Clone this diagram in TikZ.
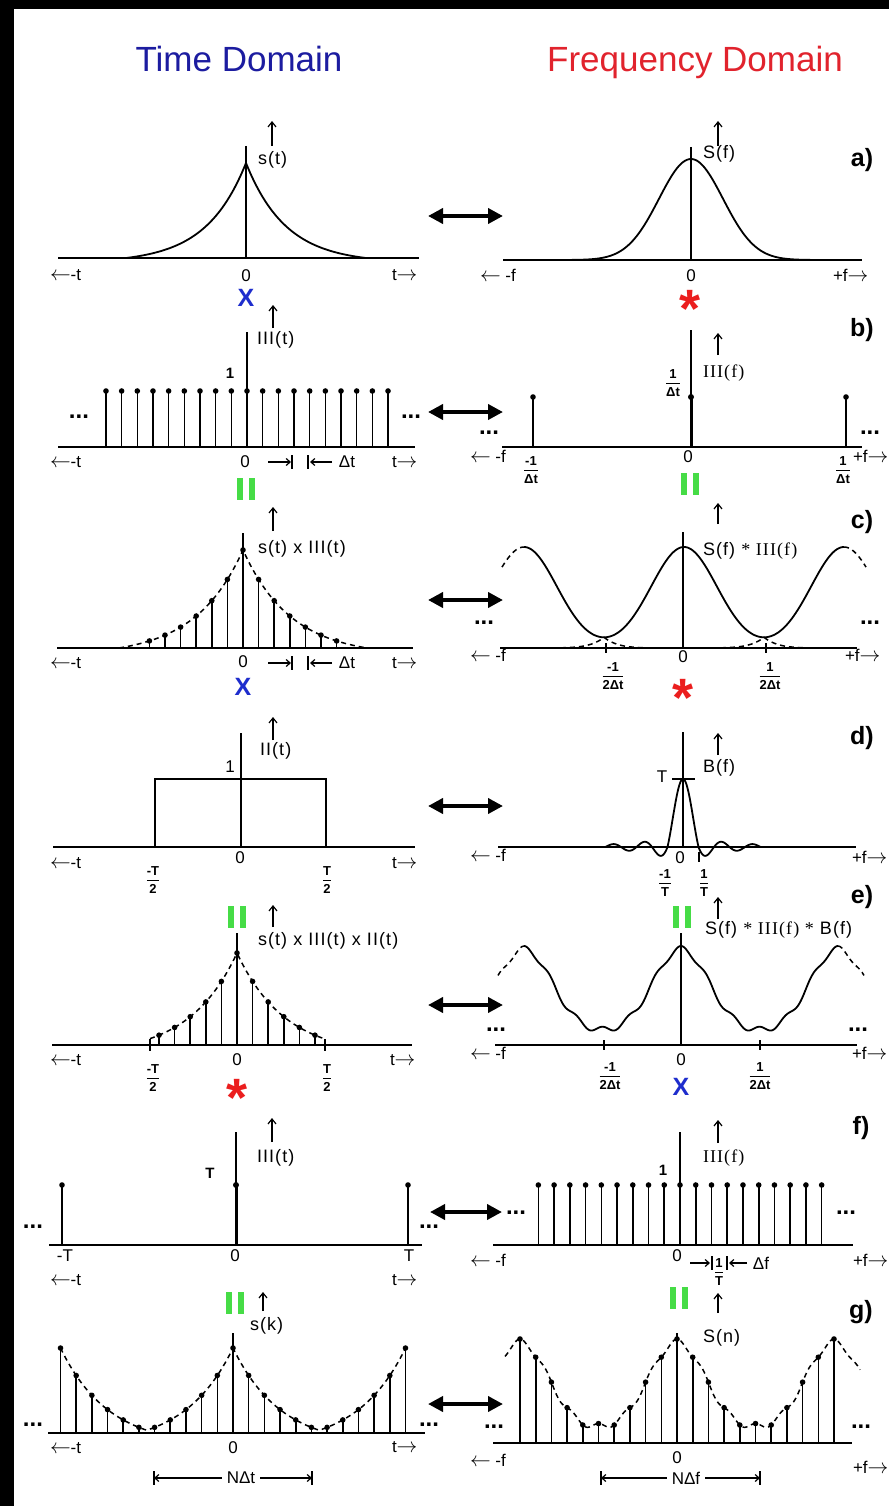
\documentclass[tikz,border=0pt]{standalone}
\usepackage{fontspec}
\usepackage{amsmath}
\setmainfont{Liberation Sans}
\newfontfamily\lsans[LetterSpace=6]{Liberation Sans}
\newfontfamily\lserif[LetterSpace=6]{Liberation Serif}
\usetikzlibrary{arrows.meta}
\definecolor{tblue}{RGB}{28,28,160}
\definecolor{fred}{RGB}{225,35,45}
\definecolor{xblue}{RGB}{30,45,205}
\definecolor{ggreen}{RGB}{70,220,70}
\definecolor{sred}{RGB}{235,30,30}
\newcommand\arrL{{\fontsize{22}{22}\selectfont$\leftarrow$}}
\newcommand\arrR{{\fontsize{22}{22}\selectfont$\rightarrow$}}
\newcommand\fr[2]{$\genfrac{}{}{1pt}{0}{\textbf{#1}}{\textbf{#2}}$}
\newcommand\stem[3]{\draw[imp] (#1,#2) -- (#1,#3); \fill (#1,#3) circle[radius=2.8pt];}
\newcommand\eqv[2]{\fill[ggreen] ({#1-9},{#2-11}) rectangle ({#1-3},{#2+11}); \fill[ggreen] ({#1+3},{#2-11}) rectangle ({#1+9},{#2+11});}
\tikzset{
  every node/.style={inner sep=0pt, outer sep=0pt},
  lab/.style={font=\lsans\fontsize{18}{18}\selectfont, anchor=west},
  ser/.style={font=\lserif\fontsize{18}{18}\selectfont, anchor=west},
  num/.style={font=\fontsize{17}{17}\selectfont},
  bnum/.style={font=\fontsize{15}{15}\selectfont\bfseries},
  frc/.style={font=\fontsize{13}{13}\selectfont},
  dts/.style={font=\fontsize{24}{24}\selectfont\bfseries},
  panel/.style={font=\fontsize{25}{25}\selectfont\bfseries},
  opx/.style={font=\fontsize{25}{25}\selectfont\bfseries, text=xblue},
  opst/.style={font=\fontsize{54}{54}\selectfont\bfseries, text=sred, anchor=base},
  ax/.style={line width=2pt},
  crv/.style={line width=1.8pt},
  imp/.style={line width=1.6pt},
  env/.style={line width=1.5pt, dash pattern=on 5pt off 4pt},
  uparr/.style={line width=1.2pt, -{Straight Barb[length=5pt,width=8pt]}},
  marr/.style={line width=1.2pt, -{Straight Barb[length=4pt,width=7pt]}},
  tickln/.style={line width=1.5pt},
  dbl/.style={line width=4pt, {Triangle[length=15pt,width=15pt]}-{Triangle[length=15pt,width=15pt]}},
  declare function={
    sa(\xa)=95*(exp(-abs(\xa)/40)-0.0498)/0.9502;
    sc(\xa)=98*(exp(-abs(\xa)/48)-0.0755)/0.9245;
    se(\xa)=92*(exp(-abs(\xa)/48)-0.101)/0.899;
    pd(\xa,\xc,\xp)=\xa-\xc-\xp*round((\xa-\xc)/\xp);
    sg(\xa)=85*max(0,(exp(-abs(\xa)/48)-0.138)/0.862);
    gc(\xa)=exp(-0.5*(\xa/33)^2);
    hc(\xa)=101*(gc(pd(\xa,684,160))+gc(pd(\xa,684,160)-160)+gc(pd(\xa,684,160)+160));
    gr(\xa)=exp(-0.5*(\xa/28)^2);
    hr(\xa,\xc,\xb,\xd)=\xb+\xd*(gr(pd(\xa,\xc,157))+gr(pd(\xa,\xc,157)-157)+gr(pd(\xa,\xc,157)+157))+3*cos(360*(pd(\xa,\xc,157)/26.17));
    sinc(\xa)=sin(180*\xa)/(3.14159*\xa)*(abs(\xa)<1 ? 1 : 0.6);
  }
}
\begin{document}
\begin{tikzpicture}[x=1pt,y=-1pt]
\useasboundingbox (0,0) rectangle (889,1506);
\clip (0,0) rectangle (889,1506);
\fill[white] (0,0) rectangle (889,1506);
\fill[black] (0,0) rectangle (889,9);
\fill[black] (0,0) rectangle (14,1506);

% titles
\node[font=\fontsize{35}{35}\selectfont, text=tblue, anchor=base] (ttime) at (239,72) {Time Domain};
\node[font=\fontsize{35}{35}\selectfont, text=fred, anchor=base] (tfreq) at (695,72) {Frequency Domain};

% ---------------- row a ----------------
\draw[ax] (58,258) -- (419,258);
\draw[ax] (246,146) -- (246,258);
\draw[crv] plot[domain=126:366, samples=121] (\x,{258-sa(\x-246)});
\draw[uparr] (272,146) -- (272,121);
\node[lab] (la) at (258,160) {s(t)};
\node[num,anchor=west] (ta1) at (50,275) {\arrL-t};
\node[num] (ta0) at (246,276) {0};
\node[num,anchor=west] (ta2) at (392,275) {t\arrR};
\node[opx] (xa) at (246,298) {X};

\draw[ax] (503,260) -- (862,260);
\draw[ax] (691,147) -- (691,260);
\draw[crv] plot[domain=571:811, samples=121] (\x,{260-101*exp(-0.5*((\x-691)/32)^2)});
\draw[uparr] (718,146) -- (718,121);
\node[lab] (lfa) at (703,154) {S(f)};
\node[num,anchor=west] (fa1) at (480,275) {\arrL{} -f};
\node[num] (fa0) at (691,276) {0};
\node[num,anchor=west] (fa2) at (833,275) {+f\arrR};
\node[opst] (sa) at (690,327) {*};
\node[panel] (pa) at (862,160) {a)};
\coordinate (aL) at (428,216); \coordinate (aR) at (503,216);
\draw[dbl] (aL) -- (aR);

% ---------------- row b ----------------
\draw[ax] (58,447) -- (415,447);
\draw[ax] (247,332) -- (247,447);
\foreach \k in {-9,...,9} {\pgfmathsetmacro{\xx}{247+15.67*\k}\stem{\xx}{447}{391}}
\draw[uparr] (273,328) -- (273,305);
\node[lab] (lb) at (257,340) {III(t)};
\node[bnum] (onb) at (230,373) {1};
\node[dts] (db1) at (79,417) {...};
\node[dts] (db2) at (411,417) {...};
\node[num,anchor=west] (tb1) at (50,462) {\arrL-t};
\node[num] (tb0) at (245,462) {0};
\draw[marr] (268,462) -- (291,462);
\draw[tickln] (292,455) -- (292,469);
\draw[tickln] (308,455) -- (308,469);
\draw[marr] (332,462) -- (310,462);
\node[num] (dtb) at (347,462) {Δt};
\node[num,anchor=west] (tb2) at (392,462) {t\arrR};
\eqv{246}{489}

\draw[ax] (502,447) -- (862,447);
\draw[ax] (691,330) -- (691,447);
\stem{533}{447}{397}
\stem{846}{447}{397}
\draw[line width=3pt] (691,397) -- (691,447);
\fill (691,397) circle[radius=3pt];
\draw[uparr] (718,355) -- (718,333);
\node[ser] (lfb) at (703,373) {III(f)};
\node[frc] (fb3) at (673,383) {\fr{1}{Δt}};
\node[dts] (dfb1) at (489,433) {...};
\node[dts] (dfb2) at (870,433) {...};
\node[num,anchor=west] (fb1) at (470,456) {\arrL{} -f};
\node[frc] (fb4) at (531,470) {\fr{-1}{Δt}};
\node[num] (fb0) at (688,457) {0};
\node[frc] (fb5) at (843,470) {\fr{1}{Δt}};
\node[num,anchor=west] (fb2) at (853,456) {+f\arrR};
\eqv{690}{484}
\node[panel] (pb) at (862,330) {b)};
\coordinate (bL) at (428,412); \coordinate (bR) at (503,412);
\draw[dbl] (bL) -- (bR);

% ---------------- row c ----------------
\draw[ax] (57,648) -- (413,648);
\draw[ax] (243,533) -- (243,648);
\draw[env] plot[domain=119:367, samples=101] (\x,{648-sc(\x-243)});
\foreach \k in {-6,...,6} {\pgfmathsetmacro{\xx}{243+15.6*\k}\pgfmathsetmacro{\yy}{648-sc(15.6*\k)}\stem{\xx}{648}{\yy}}
\draw[uparr] (273,531) -- (273,507);
\node[lab] (lc) at (258,549) {s(t) x III(t)};
\node[num,anchor=west] (tc1) at (50,663) {\arrL-t};
\node[num] (tc0) at (243,662) {0};
\draw[marr] (268,663) -- (291,663);
\draw[tickln] (292,656) -- (292,670);
\draw[tickln] (308,656) -- (308,670);
\draw[marr] (332,663) -- (310,663);
\node[num] (dtc) at (347,663) {Δt};
\node[num,anchor=west] (tc2) at (392,663) {t\arrR};
\node[opx] (xc) at (243,687) {X};

\draw[ax] (500,648) -- (857,648);
\draw[ax] (683,532) -- (683,648);
\draw[crv] plot[domain=524:844, samples=220] (\x,{648-hc(\x)});
\draw[env] plot[domain=502:524, samples=12] (\x,{648-hc(\x)});
\draw[env] plot[domain=844:866, samples=12] (\x,{648-hc(\x)});
\draw[env] plot[domain=552:604, samples=30] (\x,{648-202*gc(\x-684)});
\draw[env] plot[domain=604:656, samples=30] (\x,{648-202*gc(\x-524)});
\draw[env] plot[domain=712:764, samples=30] (\x,{648-202*gc(\x-844)});
\draw[env] plot[domain=764:816, samples=30] (\x,{648-202*gc(\x-684)});
\draw[tickln] (606,643) -- (606,653);
\draw[tickln] (766,643) -- (766,653);
\draw[uparr] (718,524) -- (718,503);
\node[lab] (lfc) at (703,551) {S(f) {\lserif * III(f)}};
\node[dts] (dfc1) at (484,623) {...};
\node[dts] (dfc2) at (870,623) {...};
\node[num,anchor=west] (fc1) at (470,655) {\arrL{} -f};
\node[frc] (fc3) at (613,676) {\fr{-1}{2Δt}};
\node[num] (fc0) at (683,657) {0};
\node[frc] (fc4) at (770,676) {\fr{1}{2Δt}};
\node[num,anchor=west] (fc2) at (845,655) {+f\arrR};
\node[opst] (sc) at (683,716) {*};
\node[panel] (pc) at (862,522) {c)};
\coordinate (cL) at (428,600); \coordinate (cR) at (503,600);
\draw[dbl] (cL) -- (cR);

% ---------------- row d ----------------
\draw[ax] (53,847) -- (415,847);
\draw[ax] (241,733) -- (241,847);
\draw[crv] (155,847) -- (155,779) -- (326,779) -- (326,847);
\draw[uparr] (273,740) -- (273,717);
\node[lab] (ld) at (260,751) {II(t)};
\node[num] (ond) at (230,767) {1};
\node[num,anchor=west] (td1) at (50,863) {\arrL-t};
\node[num] (td0) at (240,858) {0};
\node[frc] (td3) at (153,880) {\fr{-T}{2}};
\node[frc] (td4) at (327,880) {\fr{T}{2}};
\node[num,anchor=west] (td2) at (392,863) {t\arrR};

\draw[ax] (498,847) -- (856,847);
\draw[ax] (683,732) -- (683,847);
\draw[crv] plot[domain=605.5:760.5, samples=200] (\x,{847-68*sinc((\x-683)/15.5)});
\draw[tickln] (672,779) -- (695,779);
\node[num] (tT) at (662,777) {T};
\draw[uparr] (718,755) -- (718,733);
\node[lab] (lfd) at (703,768) {B(f)};
\node[num,anchor=west] (fd1) at (470,855) {\arrL{} -f};
\node[num] (fd0) at (680,858) {0};
\draw[tickln] (699,852) -- (699,862);
\node[frc] (fd3) at (665,883) {\fr{-1}{T}};
\node[frc] (fd4) at (704,883) {\fr{1}{T}};
\node[num,anchor=west] (fd2) at (852,857) {+f\arrR};
\node[panel] (pd) at (862,738) {d)};
\coordinate (dL) at (428,806); \coordinate (dR) at (503,806);
\draw[dbl] (dL) -- (dR);

% ---------------- row e ----------------
\eqv{237}{917}
\draw[ax] (52,1045) -- (412,1045);
\draw[ax] (237,933) -- (237,1045);
\draw[env] plot[domain=150:325, samples=101] (\x,{1045-se(\x-237)});
\foreach \k in {-5,...,5} {\pgfmathsetmacro{\xx}{237+15.6*\k}\pgfmathsetmacro{\yy}{1045-se(15.6*\k)}\stem{\xx}{1045}{\yy}}
\draw[tickln] (150,1039) -- (150,1051);
\draw[tickln] (325,1039) -- (325,1051);
\draw[uparr] (273,927) -- (273,905);
\node[lab] (le) at (258,941) {s(t) x III(t) x II(t)};
\node[num,anchor=west] (te1) at (50,1060) {\arrL-t};
\node[num] (te0) at (237,1060) {0};
\node[frc] (te3) at (153,1078) {\fr{-T}{2}};
\node[frc] (te4) at (327,1078) {\fr{T}{2}};
\node[num,anchor=west] (te2) at (390,1060) {t\arrR};
\node[opst] (se) at (237,1116) {*};

\eqv{682}{917}
\draw[ax] (495,1045) -- (857,1045);
\draw[ax] (681,933) -- (681,1045);
\draw[crv] plot[domain=524:838, samples=300] (\x,{1045-hr(\x,681,12,84)});
\draw[env] plot[domain=498:524, samples=14] (\x,{1045-hr(\x,681,12,84)});
\draw[env] plot[domain=838:864, samples=14] (\x,{1045-hr(\x,681,12,84)});
\draw[tickln] (604,1040) -- (604,1050);
\draw[tickln] (760,1040) -- (760,1050);
\draw[uparr] (718,919) -- (718,897);
\node[lab] (lfe) at (705,930) {S(f) {\lserif * III(f) *} B(f)};
\node[dts] (dfe1) at (496,1030) {...};
\node[dts] (dfe2) at (858,1030) {...};
\node[num,anchor=west] (fe1) at (470,1053) {\arrL{} -f};
\node[frc] (fe3) at (610,1076) {\fr{-1}{2Δt}};
\node[num] (fe0) at (681,1060) {0};
\node[frc] (fe4) at (760,1076) {\fr{1}{2Δt}};
\node[num,anchor=west] (fe2) at (852,1053) {+f\arrR};
\node[opx] (xe) at (681,1087) {X};
\node[panel] (pe) at (862,897) {e)};
\coordinate (eL) at (428,1005); \coordinate (eR) at (503,1005);
\draw[dbl] (eL) -- (eR);

% ---------------- row f ----------------
\draw[ax] (49,1245) -- (422,1245);
\draw[ax] (236,1132) -- (236,1245);
\stem{62}{1245}{1185}
\stem{408}{1245}{1185}
\draw[line width=3pt] (236,1185) -- (236,1245);
\fill (236,1185) circle[radius=3pt];
\draw[uparr] (272,1142) -- (272,1118);
\node[lab] (lf) at (257,1158) {III(t)};
\node[bnum] (Tf) at (210,1173) {T};
\node[dts] (dtf1) at (33,1227) {...};
\node[dts] (dtf2) at (429,1227) {...};
\node[num] (tfm) at (65,1256) {-T};
\node[num] (tf0) at (235,1256) {0};
\node[num] (tfp) at (409,1256) {T};
\node[num,anchor=west] (tf1) at (50,1280) {\arrL-t};
\node[num,anchor=west] (tf2) at (392,1280) {t\arrR};

\draw[ax] (493,1245) -- (853,1245);
\draw[ax] (680,1132) -- (680,1245);
\foreach \k in {-9,...,9} {\pgfmathsetmacro{\xx}{680+15.74*\k}\stem{\xx}{1245}{1185}}
\draw[uparr] (718,1143) -- (718,1120);
\node[ser] (lff) at (703,1158) {III(f)};
\node[bnum] (onf) at (663,1170) {1};
\node[dts] (dff1) at (516,1213) {...};
\node[dts] (dff2) at (846,1213) {...};
\node[num,anchor=west] (ff1) at (470,1260) {\arrL{} -f};
\node[num] (ff0) at (677,1256) {0};
\draw[marr] (690,1263) -- (710,1263);
\draw[tickln] (712,1256) -- (712,1270);
\node[frc] (ffr) at (719,1272) {\fr{1}{T}};
\draw[tickln] (727,1256) -- (727,1270);
\draw[marr] (747,1263) -- (729,1263);
\node[num] (dff) at (761,1263) {Δf};
\node[num,anchor=west] (ff2) at (853,1260) {+f\arrR};
\node[panel] (pf) at (861,1128) {f)};
\coordinate (fL) at (430,1212); \coordinate (fR) at (502,1212);
\draw[dbl] (fL) -- (fR);

% ---------------- row g ----------------
\eqv{235}{1303}
\draw[ax] (48,1433) -- (425,1433);
\draw[ax] (233,1333) -- (233,1433);
\draw[env] plot[domain=60.5:405.5, samples=250] (\x,{1433-sg(pd(\x,233,172.5))});
\foreach \k in {-11,...,11} {\pgfmathsetmacro{\xx}{233+15.68*\k}\pgfmathsetmacro{\yy}{1433-sg(pd(\xx,233,172.5))}\stem{\xx}{1433}{\yy}}
\draw[uparr] (263,1311) -- (263,1292);
\node[lab] (lg) at (250,1326) {s(k)};
\node[dts] (dtg1) at (33,1425) {...};
\node[dts] (dtg2) at (429,1425) {...};
\node[num,anchor=west] (tg1) at (50,1448) {\arrL-t};
\node[num] (tg0) at (233,1448) {0};
\node[num,anchor=west] (tg2) at (392,1447) {t\arrR};
\node[num] (ndt) at (241,1478) {NΔt};
\coordinate (ndl) at (154,1478); \coordinate (ndr) at (312,1478);
\draw[marr] ([xshift=-5pt]ndt.west) -- (ndl);
\draw[marr] ([xshift=5pt]ndt.east) -- (ndr);
\draw[tickln] (154,1471) -- (154,1485);
\draw[tickln] (312,1471) -- (312,1485);

\eqv{679}{1298}
\draw[ax] (493,1443) -- (852,1443);
\draw[ax] (677,1333) -- (677,1443);
\draw[env] plot[domain=505:860, samples=300] (\x,{1443-hr(\x,677,13,88)});
\foreach \k in {-10,...,10} {\pgfmathsetmacro{\xx}{677+15.7*\k}\pgfmathsetmacro{\yy}{1443-hr(\xx,677,13,88)}\stem{\xx}{1443}{\yy}}
\draw[uparr] (718,1313) -- (718,1293);
\node[lab] (lfg) at (703,1338) {S(n)};
\node[dts] (dfg1) at (494,1427) {...};
\node[dts] (dfg2) at (861,1427) {...};
\node[num,anchor=west] (fg1) at (470,1460) {\arrL{} -f};
\node[num] (fg0) at (677,1458) {0};
\node[num] (ndf) at (686,1478) {NΔf};
\coordinate (nfl) at (601,1478); \coordinate (nfr) at (760,1478);
\draw[marr] ([xshift=-5pt]ndf.west) -- (nfl);
\draw[marr] ([xshift=5pt]ndf.east) -- (nfr);
\draw[tickln] (601,1471) -- (601,1485);
\draw[tickln] (760,1471) -- (760,1485);
\node[num,anchor=west] (fg2) at (853,1467) {+f\arrR};
\node[panel] (pg) at (861,1312) {g)};
\coordinate (gL) at (428,1404); \coordinate (gR) at (503,1404);
\draw[dbl] (gL) -- (gR);
\end{tikzpicture}
\end{document}
